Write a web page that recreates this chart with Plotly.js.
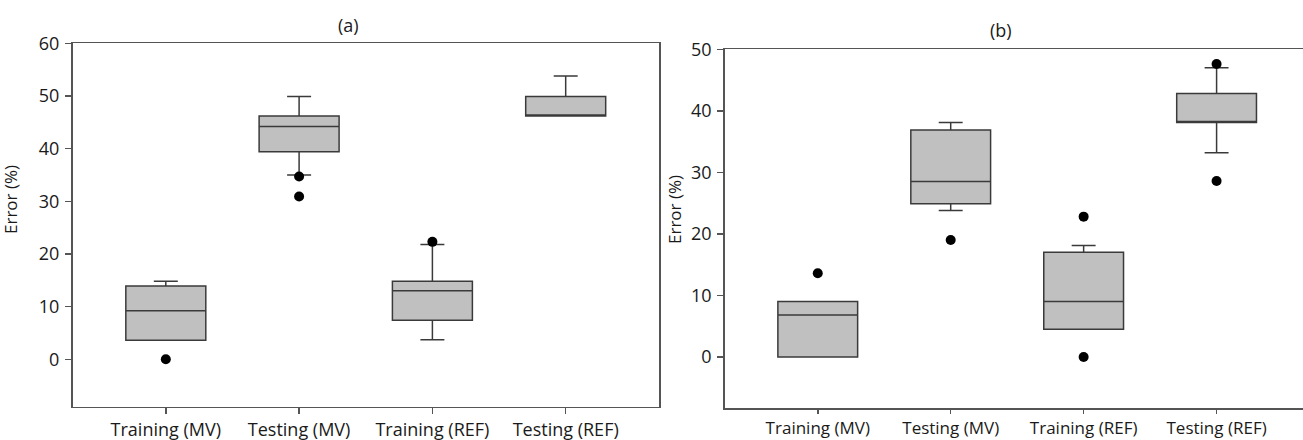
<!DOCTYPE html>
<html>
<head>
<meta charset="utf-8">
<script src="https://cdn.plot.ly/plotly-3.0.1.min.js"></script>
<style>html,body{margin:0;padding:0;background:#fff;}#chart{width:1303px;height:440px;}</style>
</head>
<body>
<div id="chart"></div>
<script>
// Categories
const categories = ["Training (MV)", "Testing (MV)", "Training (REF)", "Testing (REF)"];

// Panel (a) box statistics
const aQ1     = [3.6, 39.4, 7.4, 46.2];
const aMedian = [9.2, 44.2, 13.0, 46.2];
const aQ3     = [13.9, 46.2, 14.8, 49.9];
const aLower  = [3.6, 35.0, 3.7, 46.2];
const aUpper  = [14.8, 49.9, 21.8, 53.8];
// Panel (a) outliers
const aOutX = ["Training (MV)", "Testing (MV)", "Testing (MV)", "Training (REF)"];
const aOutY = [0, 34.7, 30.9, 22.3];

// Panel (b) box statistics
const bQ1     = [0, 24.9, 4.5, 38.1];
const bMedian = [6.8, 28.5, 9.0, 38.1];
const bQ3     = [9.0, 36.9, 17.0, 42.8];
const bLower  = [0, 23.8, 4.5, 33.2];
const bUpper  = [9.0, 38.1, 18.1, 47.0];
// Panel (b) outliers
const bOutX = ["Training (MV)", "Testing (MV)", "Training (REF)", "Training (REF)", "Testing (REF)", "Testing (REF)"];
const bOutY = [13.6, 19.0, 22.8, 0, 47.6, 28.6];

// Text
const panelTitles = ["(a)", "(b)"];
const yTitle = "Error (%)";

const FONT = "Open Sans, Noto Sans, sans-serif";
const TXT = "#1a1a1a";
const AXC = "#555555";
const boxStyle = {
  type: "box", boxpoints: false, width: 0.6, whiskerwidth: 0.3,
  fillcolor: "#c0c0c0", line: {color: "#3a3a3a", width: 1.5}, hoverinfo: "skip"
};
const outStyle = {
  type: "scatter", mode: "markers", marker: {color: "#000", size: 10}, hoverinfo: "skip"
};

const data = [
  Object.assign({}, boxStyle, {x: categories, q1: aQ1, median: aMedian, q3: aQ3,
    lowerfence: aLower, upperfence: aUpper, xaxis: "x", yaxis: "y"}),
  Object.assign({}, outStyle, {x: aOutX, y: aOutY, xaxis: "x", yaxis: "y"}),
  Object.assign({}, boxStyle, {x: categories, q1: bQ1, median: bMedian, q3: bQ3,
    lowerfence: bLower, upperfence: bUpper, xaxis: "x2", yaxis: "y2"}),
  Object.assign({}, outStyle, {x: bOutX, y: bOutY, xaxis: "x2", yaxis: "y2"})
];

const W = 1303, H = 440;
const axBase = {
  showline: true, linecolor: AXC, linewidth: 1.5, mirror: true,
  ticks: "outside", ticklen: 6, tickwidth: 1.5, tickcolor: AXC,
  showgrid: false, zeroline: false
};
const xFont = {family: FONT, size: 18, color: TXT};
const xFontB = {family: FONT, size: 17, color: TXT};
const yFont = {family: FONT, size: 18, color: TXT};

const layout = {
  width: W, height: H,
  margin: {l: 0, r: 0, t: 0, b: 0},
  paper_bgcolor: "#fff", plot_bgcolor: "#fff",
  showlegend: false,
  font: {family: FONT, color: TXT},
  xaxis: Object.assign({}, axBase, {domain: [72.5 / W, 659 / W], range: [-0.7, 3.7],
    type: "category", anchor: "y", tickfont: xFont, ticklabelstandoff: 0}),
  yaxis: Object.assign({}, axBase, {domain: [1 - 406.7 / H, 1 - 43.3 / H], range: [-9, 60],
    tickvals: [0, 10, 20, 30, 40, 50, 60], anchor: "x", tickfont: yFont, ticklabelstandoff: 2}),
  xaxis2: Object.assign({}, axBase, {domain: [724.7 / W, 1], range: [-0.7, 3.65],
    type: "category", anchor: "y2", tickfont: xFontB, ticklen: 4, ticklabelstandoff: 0}),
  yaxis2: Object.assign({}, axBase, {domain: [1 - 408 / H, 1 - 49.3 / H], range: [-8.3, 50],
    tickvals: [0, 10, 20, 30, 40, 50], anchor: "x2", tickfont: yFont, ticklabelstandoff: 2}),
  annotations: [
    {text: panelTitles[0], xref: "paper", yref: "paper", x: 348 / W, y: 1 - 25 / H,
     showarrow: false, xanchor: "center", yanchor: "middle", font: {family: FONT, size: 18, color: TXT}},
    {text: panelTitles[1], xref: "paper", yref: "paper", x: 1001 / W, y: 1 - 30 / H,
     showarrow: false, xanchor: "center", yanchor: "middle", font: {family: FONT, size: 18, color: TXT}},
    {text: yTitle, xref: "paper", yref: "paper", x: 10 / W, y: 1 - 200 / H, textangle: -90,
     showarrow: false, xanchor: "center", yanchor: "middle", font: {family: FONT, size: 17, color: TXT}},
    {text: yTitle, xref: "paper", yref: "paper", x: 674 / W, y: 1 - 210 / H, textangle: -90,
     showarrow: false, xanchor: "center", yanchor: "middle", font: {family: FONT, size: 17, color: TXT}}
  ]
};

Plotly.newPlot("chart", data, layout, {staticPlot: true, displayModeBar: false});
</script>
</body>
</html>
